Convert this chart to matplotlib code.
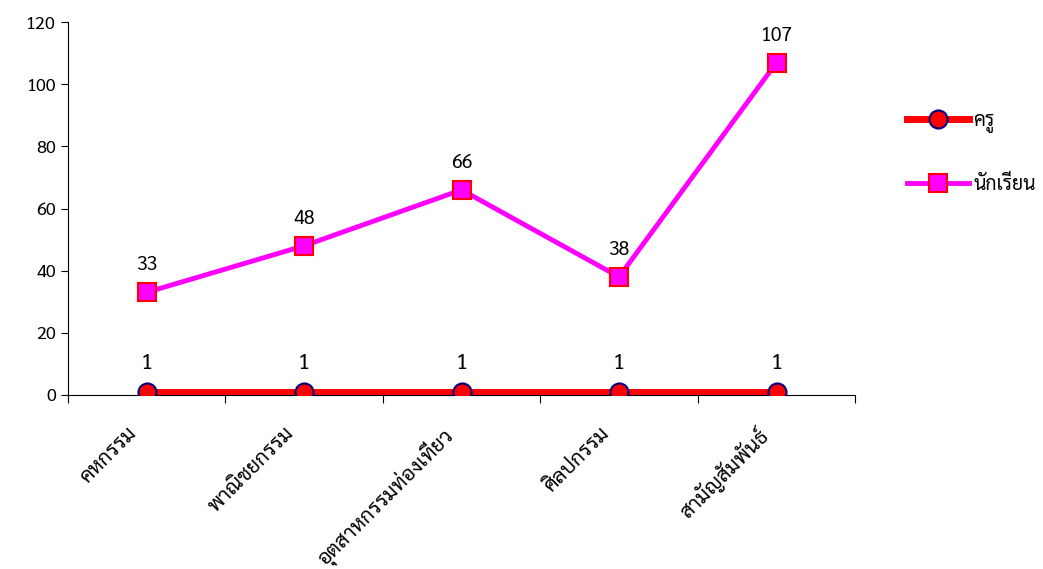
import matplotlib
matplotlib.use('Agg')
import matplotlib.pyplot as plt
from matplotlib import font_manager
from matplotlib.lines import Line2D

# ข้อมูล
categories = ['คหกรรม', 'พาณิชยกรรม', 'อุตสาหกรรมท่องเที่ยว', 'ศิลปกรรม', 'สามัญสัมพันธ์']
teachers = [1, 1, 1, 1, 1]
students = [33, 48, 66, 38, 107]
series_names = ['ครู', 'นักเรียน']
y_ticks = [0, 20, 40, 60, 80, 100, 120]

# font ไทยแบบมีหัว
installed = {f.name for f in font_manager.fontManager.ttflist}
thai_pref = ['Sarabun', 'Noto Sans Thai Looped', 'Noto Sans Thai']
thai = [f for f in thai_pref if f in installed][:1]
plt.rcParams['font.family'] = thai + ['DejaVu Sans']

fig = plt.figure(figsize=(10.43, 5.69), dpi=100)
ax = fig.add_axes([0.065, 0.306, 0.755, 0.655])

x = list(range(len(categories)))
ax.plot(x, teachers, color='red', lw=5, marker='o', ms=13,
        mfc='red', mec='#000080', mew=1.5, zorder=3)
ax.plot(x, students, color='#ff00ff', lw=3.5, marker='s', ms=13.5,
        mfc='#ff00ff', mec='red', mew=1.5, zorder=3)

for xi, v in zip(x, teachers):
    ax.annotate(str(v), (xi, v), xytext=(0, 13), textcoords='offset points',
                ha='center', va='bottom', fontsize=16)
for xi, v in zip(x, students):
    ax.annotate(str(v), (xi, v), xytext=(0, 13), textcoords='offset points',
                ha='center', va='bottom', fontsize=14)

ax.set_xlim(-0.5, len(categories) - 0.5)
ax.set_ylim(0, 120)
ax.set_yticks(y_ticks)
ax.tick_params(axis='y', labelsize=13, direction='out', length=5)
ax.set_xticks([i - 0.5 for i in range(len(categories) + 1)])
ax.set_xticklabels([])
ax.tick_params(axis='x', direction='out', length=6)
for xi, name in zip(x, categories):
    ax.text(xi - 0.13, -9, name, rotation=45, ha='right', va='top',
            fontsize=15, rotation_mode='anchor', transform=ax.transData)

for s in ['top', 'right']:
    ax.spines[s].set_visible(False)

handles = [
    Line2D([], [], color='red', lw=5, marker='o', ms=13, mfc='red', mec='#000080', mew=1.5),
    Line2D([], [], color='#ff00ff', lw=3.5, marker='s', ms=13.5, mfc='#ff00ff', mec='red', mew=1.5),
]
fig.legend(handles, series_names, loc='upper left', bbox_to_anchor=(0.853, 0.835),
           frameon=False, fontsize=14, handlelength=3.2, labelspacing=2.15,
           handletextpad=0.2)

fig.savefig('out.png', dpi=100)
